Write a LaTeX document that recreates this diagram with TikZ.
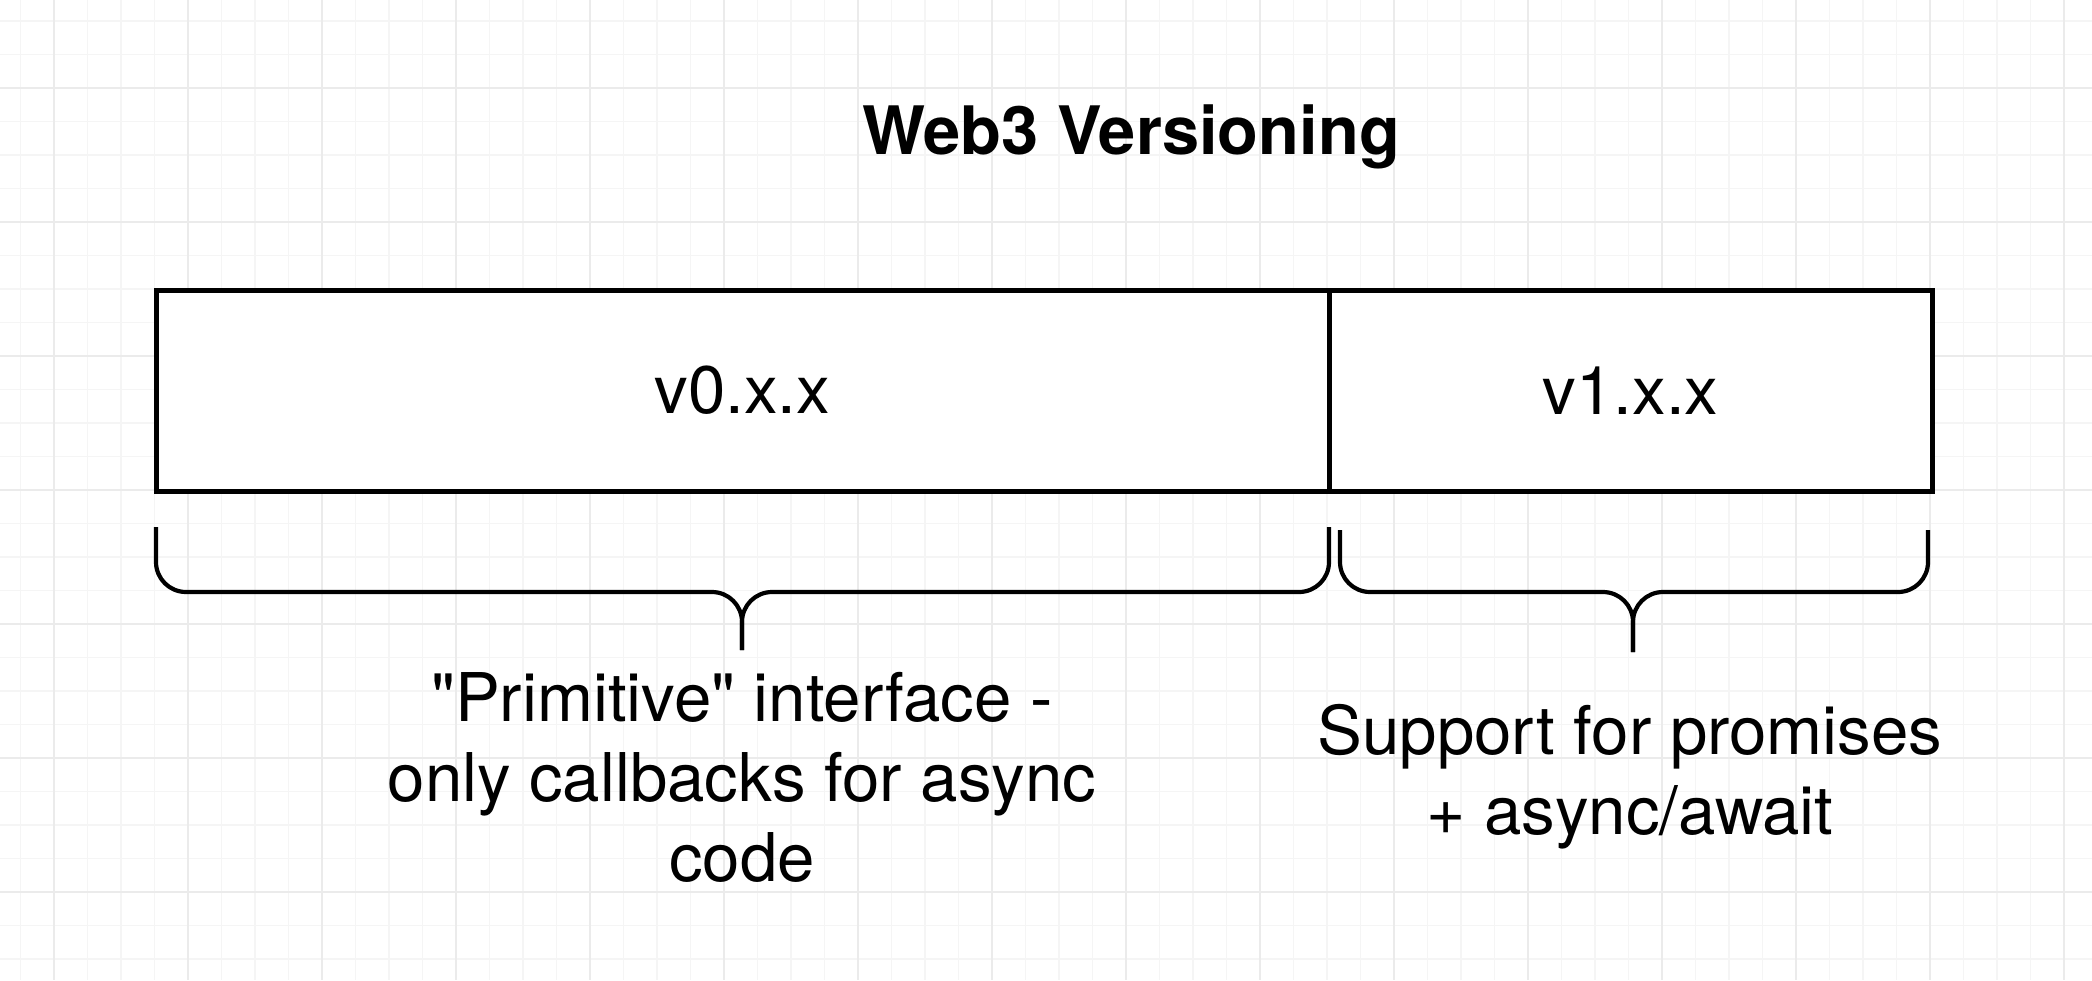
\documentclass[tikz,border=0pt]{standalone}
\usepackage{fontspec}
\setmainfont{TeX Gyre Heros}[Ligatures=TeXOff]
\begin{document}
\begin{tikzpicture}[x=0.5pt,y=-0.5pt,
  minorgrid/.style={draw=black!4, line width=0.6pt},
  majorgrid/.style={draw=black!8, line width=0.7pt},
  verbox/.style={draw=black, line width=2.5pt, fill=white, rectangle, minimum height=100.5pt, inner sep=0pt,
    font=\fontsize{33.6}{40}\selectfont},
  bracepath/.style={draw=black, line width=2.1pt, rounded corners=15pt},
  label/.style={align=center, font=\fontsize{33.6}{40}\selectfont},
  title/.style={font=\fontsize{33.4}{40}\selectfont\bfseries}]
\useasboundingbox (0,0) rectangle (2092,980);
\fill[white] (0,0) rectangle (2092,980);
% grid
\foreach \i in {-1,...,61} \draw[minorgrid] ({54+33.5*\i},0) -- ({54+33.5*\i},980);
\foreach \i in {-3,...,27} \draw[minorgrid] (0,{88+33.5*\i}) -- (2092,{88+33.5*\i});
\foreach \i in {0,...,15} \draw[majorgrid] ({54+134*\i},0) -- ({54+134*\i},980);
\foreach \i in {0,...,7} \draw[majorgrid] (0,{88+134*\i}) -- (2092,{88+134*\i});
% title
\node[title] (title) at (1131,137) {Web3 Versioning};
% boxes
\node[verbox, minimum width=586.5pt] (v0) at (742.5,390.5) {v0.x.x};
\node[verbox, minimum width=301.5pt] (v1) at (1630.5,390.5) {v1.x.x};
% braces
\coordinate (b0l) at (156,527);
\coordinate (b0r) at (1329,527);
\coordinate (b0t) at (742,650);
\draw[bracepath] (b0l) -- (156,592) -- (742,592) -- (b0t);
\draw[bracepath] (b0r) -- (1329,592) -- (742,592) -- (b0t);
\coordinate (b1l) at (1340,530);
\coordinate (b1r) at (1928,530);
\coordinate (b1t) at (1633,652);
\draw[bracepath] (b1l) -- (1340,592) -- (1633,592) -- (b1t);
\draw[bracepath] (b1r) -- (1928,592) -- (1633,592) -- (b1t);
% labels
\node[label] (l0) at (742,777) {"Primitive" interface -\\only callbacks for async\\code};
\node[label] (l1) at (1630,777) {Support for promises\\+ async/await};
\end{tikzpicture}
\end{document}
